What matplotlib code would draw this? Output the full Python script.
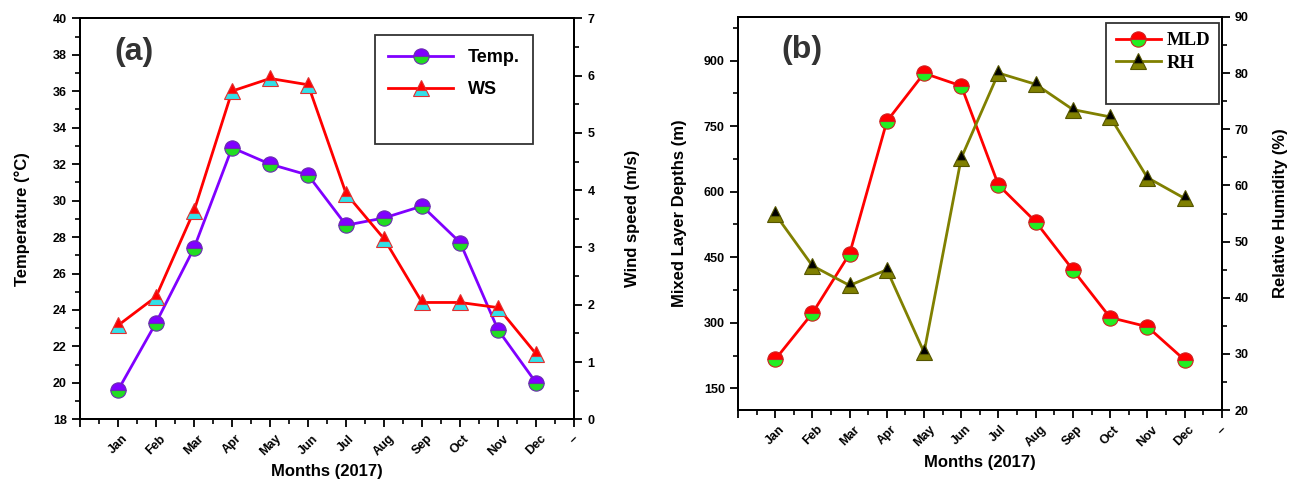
import matplotlib
matplotlib.use('Agg')
import matplotlib.pyplot as plt
from matplotlib.lines import Line2D
from matplotlib.ticker import MultipleLocator

plt.rcParams['font.family'] = ['Liberation Sans', 'DejaVu Sans']
plt.rcParams['font.weight'] = 'bold'

# data
months = ['Jan', 'Feb', 'Mar', 'Apr', 'May', 'Jun', 'Jul', 'Aug', 'Sep', 'Oct', 'Nov', 'Dec']
x = list(range(1, 13))
temp = [19.6, 23.3, 27.4, 32.9, 32.0, 31.4, 28.65, 29.05, 29.7, 27.7, 22.9, 20.0]
ws = [1.64, 2.14, 3.64, 5.73, 5.95, 5.84, 3.94, 3.15, 2.04, 2.04, 1.95, 1.14]
mld = [216, 322, 458, 761, 871, 842, 615, 531, 421, 312, 291, 215]
rh = [54.9, 45.7, 42.2, 45.0, 30.3, 64.9, 80.0, 78.0, 73.5, 72.2, 61.4, 57.7]
xtick_labels = [''] + months + ['–']

fig = plt.figure(figsize=(12.97, 4.82), dpi=100)


def style_axis(ax):
    for s in ax.spines.values():
        s.set_linewidth(1.4)
    ax.tick_params(which='major', length=6, width=1.3, labelsize=9)
    ax.tick_params(which='minor', length=3.5, width=1.2)


def setup_x(ax):
    ax.set_xlim(0, 13)
    ax.set_xticks(range(0, 14))
    ax.set_xticklabels(xtick_labels, rotation=45, fontsize=9, fontweight='bold')
    ax.xaxis.set_minor_locator(MultipleLocator(0.5))
    ax.set_xlabel('Months (2017)', fontsize=12, fontweight='bold', labelpad=4)


# ---- panel (a) ----
ax1 = fig.add_axes([0.0617, 0.130, 0.381, 0.832])
ax2 = ax1.twinx()
style_axis(ax1)
style_axis(ax2)
setup_x(ax1)
ax1.set_ylim(18, 40)
ax1.yaxis.set_major_locator(MultipleLocator(2))
ax1.yaxis.set_minor_locator(MultipleLocator(1))
ax2.set_ylim(0, 7)
ax2.yaxis.set_major_locator(MultipleLocator(1))
ax2.yaxis.set_minor_locator(MultipleLocator(0.5))
ax1.set_ylabel('Temperature (°C)', fontsize=12, fontweight='bold', labelpad=16)
ax2.set_ylabel('Wind speed (m/s)', fontsize=12, fontweight='bold', labelpad=22)

l1, = ax1.plot(x, temp, color='#8000ff', lw=2, marker='o', ms=11, fillstyle='top',
               markerfacecolor='#8000ff', markerfacecoloralt='#22dd22',
               markeredgecolor='#6a2bb0', markeredgewidth=0.8, label='Temp.')
l2, = ax2.plot(x, ws, color='#ff0000', lw=2, marker='^', ms=12, fillstyle='top',
               markerfacecolor='#ff0000', markerfacecoloralt='#33e0e8',
               markeredgecolor='#e03030', markeredgewidth=0.8, label='WS')
ax1.text(0.07, 0.915, '(a)', transform=ax1.transAxes, fontsize=23, fontweight='bold',
         color='#333333', ha='left', va='center')
blank = Line2D([], [], linestyle='none', label=' ')
leg = ax2.legend(handles=[l1, l2, blank], loc='upper left', bbox_to_anchor=(0.578, 0.98),
                 frameon=True, fancybox=False, edgecolor='black', handlelength=3.6,
                 prop={'family': 'Liberation Sans', 'weight': 'bold', 'size': 13},
                 labelspacing=0.85, borderpad=0.75, handletextpad=0.8)
leg.get_frame().set_linewidth(1.3)

# ---- panel (b) ----
ax3 = fig.add_axes([0.569, 0.149, 0.373, 0.816])
ax4 = ax3.twinx()
style_axis(ax3)
style_axis(ax4)
setup_x(ax3)
ax3.set_ylim(100, 1000)
ax3.yaxis.set_major_locator(MultipleLocator(150))
ax3.yaxis.set_minor_locator(MultipleLocator(75))
ax4.set_ylim(20, 90)
ax4.yaxis.set_major_locator(MultipleLocator(10))
ax4.yaxis.set_minor_locator(MultipleLocator(5))
ax3.set_ylabel('Mixed Layer Depths (m)', fontsize=12, fontweight='bold', labelpad=12)
ax4.set_ylabel('Relative Humidity (%)', fontsize=12, fontweight='bold', labelpad=17)

l3, = ax3.plot(x, mld, color='#ff0000', lw=2, marker='o', ms=11, fillstyle='top',
               markerfacecolor='#ff0000', markerfacecoloralt='#22ee22',
               markeredgecolor='#d02020', markeredgewidth=0.8, label='MLD')
l4, = ax4.plot(x, rh, color='#808000', lw=2, marker='^', ms=12, fillstyle='top',
               markerfacecolor='#000000', markerfacecoloralt='#808000',
               markeredgecolor='#555500', markeredgewidth=0.8, label='RH')
ax3.text(0.09, 0.915, '(b)', transform=ax3.transAxes, fontsize=23, fontweight='bold',
         color='#333333', ha='left', va='center')
leg2 = ax4.legend(handles=[l3, l4, Line2D([], [], linestyle='none', label=' ')],
                  loc='upper right', bbox_to_anchor=(0.995, 0.985), borderaxespad=0,
                  frameon=True, fancybox=False, edgecolor='black', handlelength=2.4,
                  prop={'family': 'Liberation Serif', 'weight': 'bold', 'size': 13.5},
                  labelspacing=0.3, borderpad=0.5, handletextpad=0.3)
leg2.get_frame().set_linewidth(1.3)

fig.savefig('out.png', dpi=100)
